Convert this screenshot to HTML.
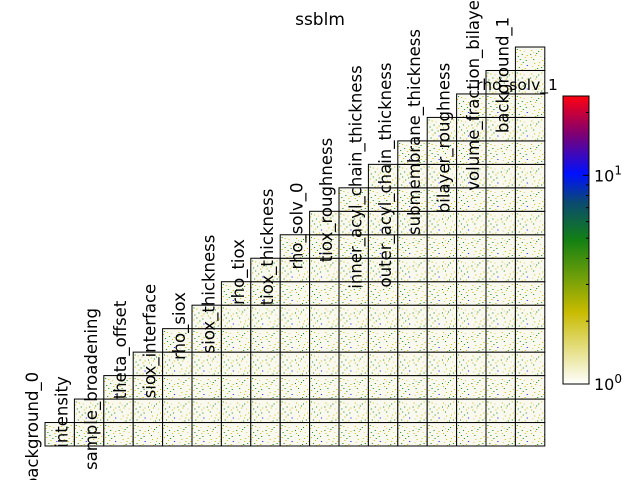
<!DOCTYPE html>
<html><head><meta charset="utf-8"><style>
html,body{margin:0;padding:0;background:#fff;}
svg{display:block;font-family:"DejaVu Sans","Liberation Sans",sans-serif;}
</style></head><body>
<svg id="chart" width="640" height="480" viewBox="0 0 640 480" xmlns="http://www.w3.org/2000/svg">
<defs>
<linearGradient id="cmap" x1="0" y1="1" x2="0" y2="0">
<stop offset="0" stop-color="#ffffff"/>
<stop offset="0.25" stop-color="#c8bb00"/>
<stop offset="0.5" stop-color="#138013"/>
<stop offset="0.63" stop-color="#0a4a70"/>
<stop offset="0.73" stop-color="#0010ff"/>
<stop offset="0.87" stop-color="#800070"/>
<stop offset="1" stop-color="#ff0010"/>
</linearGradient>
<pattern id="dots" width="29.4" height="23.5" patternUnits="userSpaceOnUse">
<rect width="29.4" height="23.5" fill="#f9f9f0"/>
<rect x="2" y="3" width="1" height="1" fill="#c8bb00"/><rect x="7" y="6" width="1" height="1" fill="#138013"/>
<rect x="12" y="2" width="1" height="1" fill="#c8bb00"/><rect x="18" y="9" width="1" height="1" fill="#138013"/>
<rect x="24" y="4" width="1" height="1" fill="#d8d070"/><rect x="4" y="12" width="1" height="1" fill="#138013"/>
<rect x="10" y="15" width="1" height="1" fill="#c8bb00"/><rect x="15" y="11" width="1" height="1" fill="#0a4a70"/>
<rect x="21" y="17" width="1" height="1" fill="#c8bb00"/><rect x="26" y="13" width="1" height="1" fill="#138013"/>
<rect x="3" y="19" width="1" height="1" fill="#d8d070"/><rect x="8" y="21" width="1" height="1" fill="#138013"/>
<rect x="14" y="18" width="1" height="1" fill="#c8bb00"/><rect x="19" y="20" width="1" height="1" fill="#138013"/>
<rect x="25" y="21" width="1" height="1" fill="#c8bb00"/><rect x="6" y="8" width="1" height="1" fill="#c8bb00"/>
<rect x="22" y="7" width="1" height="1" fill="#138013"/><rect x="11" y="9" width="1" height="1" fill="#d8d070"/>
<rect x="17" y="14" width="1" height="1" fill="#c8bb00"/><rect x="27" y="18" width="1" height="1" fill="#0010ff"/>
<rect x="1" y="7" width="1" height="1" fill="#138013"/><rect x="5" y="16" width="1" height="1" fill="#c8bb00"/>
<rect x="9" y="4" width="1" height="1" fill="#138013"/><rect x="13" y="13" width="1" height="1" fill="#c8bb00"/>
<rect x="16" y="5" width="1" height="1" fill="#c8bb00"/><rect x="20" y="12" width="1" height="1" fill="#138013"/>
<rect x="23" y="15" width="1" height="1" fill="#138013"/><rect x="27" y="8" width="1" height="1" fill="#c8bb00"/>
<rect x="6" y="22" width="1" height="1" fill="#c8bb00"/><rect x="12" y="20" width="1" height="1" fill="#138013"/>
<rect x="17" y="2" width="1" height="1" fill="#138013"/><rect x="22" y="22" width="1" height="1" fill="#c8bb00"/>
<rect x="2" y="10" width="1" height="1" fill="#c8bb00"/><rect x="9" y="18" width="1" height="1" fill="#c8bb00"/>
<rect x="15" y="16" width="1" height="1" fill="#138013"/><rect x="25" y="10" width="1" height="1" fill="#c8bb00"/>
<rect x="20" y="3" width="1" height="1" fill="#c8bb00"/><rect x="4" y="5" width="1" height="1" fill="#d8d070"/>
</pattern>
</defs>
<text x="320" y="25" font-size="17" text-anchor="middle">ssblm</text>
<g id="cells"></g>
<g id="labels"></g>
<g id="colorbar"></g>
</svg>
<script>
const params = ["background_0","intensity","sample_broadening","theta_offset","siox_interface","rho_siox","siox_thickness","rho_tiox","tiox_thickness","rho_solv_0","tiox_roughness","inner_acyl_chain_thickness","outer_acyl_chain_thickness","submembrane_thickness","bilayer_roughness","volume_fraction_bilayer","background_1","rho_solv_1"];
const labelCenterY = [430,412,389,350,341,326,294,272,247,226,200,177,175,132,138,92,75];
const cbMajorTicks = [1,10];
const cbMinorTicks = [2,3,4,5,6,7,8,9,20];
const cbMax = 24;

const NS = "http://www.w3.org/2000/svg";
const x0 = 45, bottom = 446, cw = 29.4, ch = 23.47;
const n = params.length - 1;
const cells = document.getElementById("cells");
for (let j = 0; j < n; j++) {
  for (let i = 0; i <= j; i++) {
    const r = document.createElementNS(NS, "rect");
    r.setAttribute("x", x0 + j * cw);
    r.setAttribute("y", bottom - (i + 1) * ch);
    r.setAttribute("width", cw);
    r.setAttribute("height", ch);
    r.setAttribute("fill", "url(#dots)");
    r.setAttribute("stroke", "#000");
    r.setAttribute("stroke-width", "1");
    
    
    cells.appendChild(r);
  }
}
const labels = document.getElementById("labels");
for (let k = 0; k < params.length; k++) {
  const t = document.createElementNS(NS, "text");
  t.textContent = params[k];
  t.setAttribute("font-size", "16.5");
  t.setAttribute("text-anchor", "middle");
  if (k < n) {
    const cx = x0 + k * cw - 13;
    const cy = labelCenterY[k];
    t.setAttribute("transform", "translate(" + cx + "," + cy + ") rotate(-90)");
    t.setAttribute("dy", "6");
  } else {
    t.setAttribute("x", 517);
    t.setAttribute("y", 90);
    t.setAttribute("font-size", "15.5");
  }
  
  
  labels.appendChild(t);
}
const cb = document.getElementById("colorbar");
const cbX = 563, cbW = 26, cbTop = 96, cbBot = 384;
const cbY = v => cbBot - Math.log10(v) / Math.log10(cbMax) * (cbBot - cbTop);
const bar = document.createElementNS(NS, "rect");
bar.setAttribute("x", cbX); bar.setAttribute("y", cbTop);
bar.setAttribute("width", cbW); bar.setAttribute("height", cbBot - cbTop);
bar.setAttribute("fill", "url(#cmap)"); bar.setAttribute("stroke", "#000");


cb.appendChild(bar);
cbMinorTicks.forEach(v => {
  const l = document.createElementNS(NS, "line");
  const y = cbY(v);
  l.setAttribute("x1", cbX + cbW - 3); l.setAttribute("x2", cbX + cbW);
  l.setAttribute("y1", y); l.setAttribute("y2", y); l.setAttribute("stroke", "#000");
  
  
  cb.appendChild(l);
});
cbMajorTicks.forEach(v => {
  const y = cbY(v);
  const l = document.createElementNS(NS, "line");
  l.setAttribute("x1", cbX + cbW - 6); l.setAttribute("x2", cbX + cbW);
  l.setAttribute("y1", y); l.setAttribute("y2", y); l.setAttribute("stroke", "#000");
  
  
  cb.appendChild(l);
  const t = document.createElementNS(NS, "text");
  t.setAttribute("x", cbX + cbW + 5); t.setAttribute("y", y + 6);
  t.setAttribute("font-size", "16");
  t.innerHTML = '10<tspan dy="-7" font-size="12">' + Math.round(Math.log10(v)) + '</tspan>';
  
  
  cb.appendChild(t);
});
</script>
</body></html>
